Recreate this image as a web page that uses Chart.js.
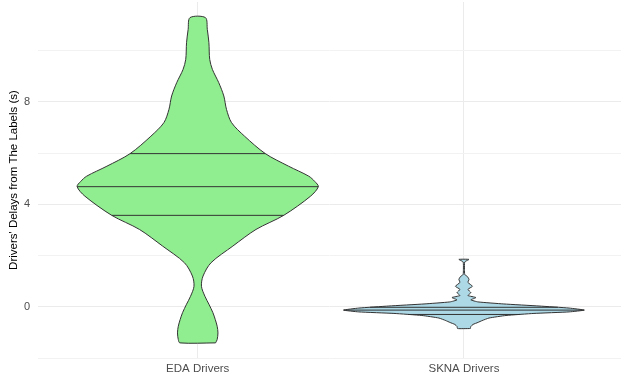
<!DOCTYPE html>
<html><head><meta charset="utf-8">
<script src="https://cdn.jsdelivr.net/npm/chart.js@4"></script>
<style>html,body{margin:0;padding:0;background:#fff}</style>
</head><body>
<canvas id="c" width="621" height="379"></canvas>
<script>
// ---- data ----
const categories = ['EDA Drivers', 'SKNA Drivers'];

// EDA violin profile: delay (s) and half-width (category units), bottom to top
const edaDelay = [-1.41, -1.28, -1.02, -0.76, -0.50, -0.23, 0.10, 0.41, 0.80, 1.20, 1.72, 2.37, 3.02, 3.57, 4.32, 4.69, 4.89, 5.10, 5.49, 5.98, 6.66, 7.19, 7.71, 8.23, 8.75, 9.27, 9.66, 10.31, 10.83, 11.29];
const edaWidth = [0.067, 0.073, 0.076, 0.073, 0.066, 0.057, 0.042, 0.027, 0.014, 0.020, 0.050, 0.132, 0.219, 0.323, 0.424, 0.453, 0.440, 0.417, 0.341, 0.254, 0.176, 0.127, 0.108, 0.098, 0.079, 0.055, 0.045, 0.042, 0.036, 0.029];
const edaQuartiles = [3.57, 4.69, 5.98];

// SKNA violin profile
const sknaDelay = [-0.85, -0.77, -0.69, -0.61, -0.54, -0.44, -0.34, -0.26, -0.20, -0.13, -0.05, 0.03, 0.11, 0.19, 0.27, 0.36, 0.44, 0.55, 0.68, 0.80, 0.95, 1.07, 1.18, 1.26, 1.46, 1.75, 1.85];
const sknaWidth = [0.024, 0.026, 0.034, 0.053, 0.068, 0.094, 0.158, 0.263, 0.395, 0.452, 0.395, 0.282, 0.150, 0.053, 0.026, 0.045, 0.015, 0.026, 0.015, 0.032, 0.015, 0.019, 0.013, 0.003, 0.002, 0.003, 0.019];
const sknaQuartiles = [-0.30, -0.13, -0.02];

const yTicks = [-2, 0, 2, 4, 6, 8, 10];
const yLabels = ['', '0', '', '4', '', '8', ''];
const yTitle = "Drivers' Delays from The Labels (s)";

// ---- helpers building shapes from the arrays ----
function outline(center, ys, ws) {
  const pts = [];
  for (let i = 0; i < ys.length; i++) pts.push({x: center + ws[i], y: ys[i]});
  for (let i = ys.length - 1; i >= 0; i--) pts.push({x: center - ws[i], y: ys[i]});
  pts.push({x: center + ws[0], y: ys[0]});
  return pts;
}
function widthAt(ys, ws, q) {
  for (let i = 0; i < ys.length - 1; i++) {
    if (q >= ys[i] && q <= ys[i + 1]) {
      const t = (q - ys[i]) / (ys[i + 1] - ys[i]);
      return ws[i] + t * (ws[i + 1] - ws[i]);
    }
  }
  return 0;
}
function qLines(center, ys, ws, qs) {
  return qs.map(q => {
    const w = widthAt(ys, ws, q);
    return {
      data: [{x: center - w, y: q}, {x: center + w, y: q}],
      showLine: true, borderColor: '#333333', borderWidth: 1, pointRadius: 0, fill: false, tension: 0
    };
  });
}

const FONT = '"Liberation Sans", Arial, Helvetica, sans-serif';

const datasets = [
  ...qLines(1, edaDelay, edaWidth, edaQuartiles),
  ...qLines(2, sknaDelay, sknaWidth, sknaQuartiles),
  {
    label: categories[0], data: outline(1, edaDelay, edaWidth), showLine: true,
    borderColor: '#333333', borderWidth: 1, backgroundColor: '#90EE90', fill: 'shape',
    pointRadius: 0, tension: 0.3
  },
  {
    label: categories[1], data: outline(2, sknaDelay, sknaWidth), showLine: true,
    borderColor: '#333333', borderWidth: 1, backgroundColor: '#ADD8E6', fill: 'shape',
    pointRadius: 0, tension: 0.15
  }
];

function noPad(s) { s.paddingTop = 0; s.paddingBottom = 0; s.paddingLeft = 0; s.paddingRight = 0; }

new Chart(document.getElementById('c'), {
  type: 'scatter',
  data: {datasets},
  options: {
    responsive: false, animation: false, devicePixelRatio: 1,
    layout: {padding: {top: 2, right: 0, left: 0, bottom: 0}},
    plugins: {legend: {display: false}, tooltip: {enabled: false}},
    scales: {
      x: {
        type: 'linear', min: 0.4, max: 2.59,
        afterBuildTicks: s => { s.ticks = [{value: 1}, {value: 2}]; },
        afterFit: s => { s.height = 21; noPad(s); },
        ticks: {callback: v => categories[v - 1] || '', font: {family: FONT, size: 11.5}, color: '#4d4d4d', padding: 4, maxRotation: 0, autoSkip: false},
        grid: {color: '#ebebeb', lineWidth: 1, drawTicks: false},
        border: {display: false}
      },
      y: {
        type: 'linear', min: -2, max: 11.9,
        afterBuildTicks: s => { s.ticks = yTicks.map(v => ({value: v})); },
        afterFit: s => { s.width = 38; noPad(s); },
        ticks: {callback: v => yLabels[yTicks.indexOf(v)] ?? '', font: {family: FONT, size: 11}, color: '#4d4d4d', padding: 8, autoSkip: false},
        grid: {color: ctx => (ctx.tick && ctx.tick.value % 4 === 0) ? '#ebebeb' : '#f2f2f2', lineWidth: 1, drawTicks: false},
        border: {display: false},
        title: {display: true, text: yTitle, color: '#000000', font: {family: FONT, size: 11.5}, padding: {top: 7, bottom: 0}}
      }
    }
  }
});
</script>
</body></html>
